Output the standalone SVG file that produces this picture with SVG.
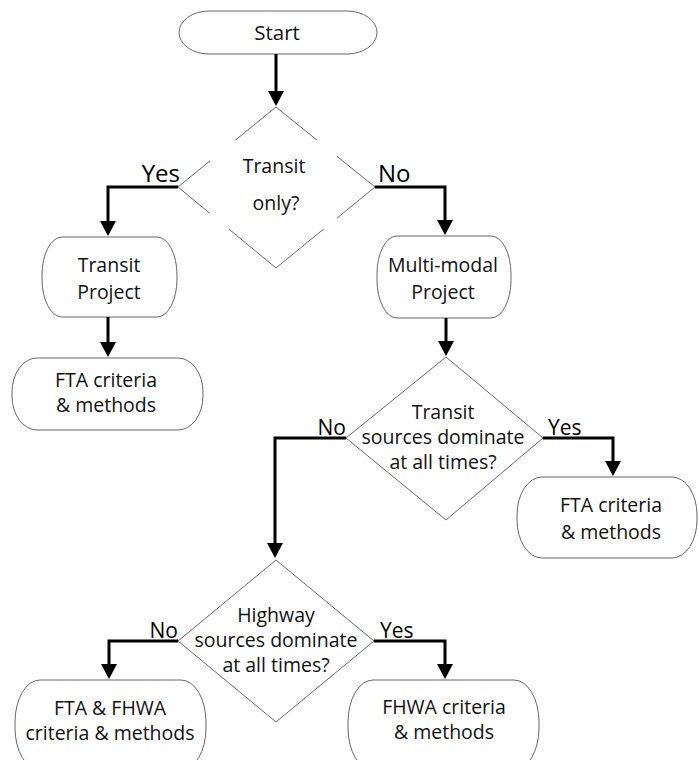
<svg xmlns="http://www.w3.org/2000/svg" width="699" height="760" viewBox="0 0 699 760">
  <style>
    .box { fill: #ffffff; stroke: #666666; stroke-width: 1; }
    .t { font-family: "Open Sans", "Liberation Sans", sans-serif; font-size: 19.5px; fill: #111111; text-anchor: middle; }
    .lbl { font-family: "Open Sans", "Liberation Sans", sans-serif; font-size: 21px; fill: #000000; }
    .big { font-size: 24px; }
    .conn { fill: none; stroke: #000000; stroke-width: 3; }
  </style>
  <defs>
    <marker id="arr" viewBox="0 0 16 16" markerUnits="userSpaceOnUse" markerWidth="16" markerHeight="16" refX="2" refY="8" orient="auto">
      <path d="M0,0 L15,8 L0,16 z" fill="#000000"/>
    </marker>
  </defs>
  <rect width="699" height="760" fill="#ffffff"/>

  <g id="start">
    <rect class="box" x="179" y="11" width="198" height="43" rx="30" ry="21.5"/>
    <text class="t" x="277" y="40" style="font-size:20.5px">Start</text>
  </g>

  <g id="transit-only">
    <polygon class="box" points="276,107 375,187 276,268 178,187"/>
    <rect x="210" y="140" width="127" height="89" fill="#ffffff"/>
    <text class="t" x="274" y="173">Transit</text>
    <text class="t" x="276" y="210">only?</text>
  </g>

  <g id="transit-project">
    <rect class="box" x="42" y="237" width="135" height="80" rx="20" ry="38"/>
    <text class="t" x="109" y="272">Transit</text>
    <text class="t" x="109" y="299">Project</text>
  </g>

  <g id="fta-1">
    <rect class="box" x="12" y="358" width="191" height="72" rx="25" ry="34"/>
    <text class="t" x="106" y="387">FTA criteria</text>
    <text class="t" x="106" y="412">&amp; methods</text>
  </g>

  <g id="multimodal-project">
    <rect class="box" x="377" y="236" width="134" height="82" rx="20" ry="38"/>
    <text class="t" x="443" y="272">Multi-modal</text>
    <text class="t" x="443" y="299">Project</text>
  </g>

  <g id="transit-dominate">
    <polygon class="box" points="446,357 543,438 446,520 346,438"/>
    <text class="t" x="443" y="419">Transit</text>
    <text class="t" x="443" y="444">sources dominate</text>
    <text class="t" x="443" y="469">at all times?</text>
  </g>

  <g id="fta-2">
    <rect class="box" x="517" y="477" width="180" height="81" rx="25" ry="38"/>
    <text class="t" x="611" y="512">FTA criteria</text>
    <text class="t" x="611" y="539">&amp; methods</text>
  </g>

  <g id="highway-dominate">
    <polygon class="box" points="276,560 374,641 276,722 178,641"/>
    <text class="t" x="276" y="622">Highway</text>
    <text class="t" x="276" y="647">sources dominate</text>
    <text class="t" x="276" y="672">at all times?</text>
  </g>

  <g id="fta-fhwa">
    <rect class="box" x="15" y="680" width="191" height="90" rx="25" ry="42"/>
    <text class="t" x="110" y="715">FTA &amp; FHWA</text>
    <text class="t" x="110" y="740">criteria &amp; methods</text>
  </g>

  <g id="fhwa">
    <rect class="box" x="348" y="680" width="191" height="90" rx="25" ry="42"/>
    <text class="t" x="444" y="714">FHWA criteria</text>
    <text class="t" x="444" y="739">&amp; methods</text>
  </g>

  <g id="connectors">
    <path class="conn" d="M276,54 V93" marker-end="url(#arr)"/>
    <path class="conn" d="M178,187 H108 V223" marker-end="url(#arr)"/>
    <path class="conn" d="M375,187 H445 V222" marker-end="url(#arr)"/>
    <path class="conn" d="M108,317 V344" marker-end="url(#arr)"/>
    <path class="conn" d="M446,318 V343" marker-end="url(#arr)"/>
    <path class="conn" d="M543,438 H613 V463" marker-end="url(#arr)"/>
    <path class="conn" d="M346,438 H275 V545" marker-end="url(#arr)"/>
    <path class="conn" d="M178,641 H109 V666" marker-end="url(#arr)"/>
    <path class="conn" d="M374,641 H445 V666" marker-end="url(#arr)"/>
    <text class="lbl big" x="180" y="182" text-anchor="end">Yes</text>
    <text class="lbl big" x="378" y="182">No</text>
    <text class="lbl" x="548" y="435">Yes</text>
    <text class="lbl" x="346" y="435" text-anchor="end">No</text>
    <text class="lbl" x="178" y="638" text-anchor="end">No</text>
    <text class="lbl" x="380" y="638">Yes</text>
  </g>
</svg>
